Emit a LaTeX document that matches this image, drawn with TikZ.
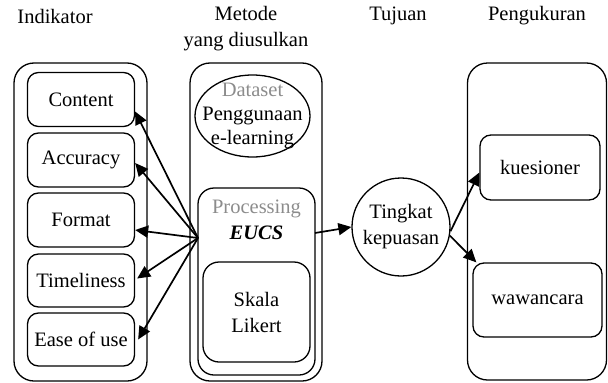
\documentclass[tikz,border=0pt]{standalone}
\usepackage{fontspec}
\setmainfont{Liberation Serif}
\usetikzlibrary{arrows.meta,shapes.geometric,calc}
\definecolor{graytxt}{HTML}{8C8C8C}
\begin{document}
\begin{tikzpicture}[x=1pt,y=-1pt,
  every node/.style={font=\fontsize{20.5}{26}\selectfont, inner sep=0pt, align=center},
  bigbox/.style={draw, line width=1.3pt, rounded corners=20pt},
  ibox/.style={draw, line width=1.3pt, rounded corners=11pt},
  arr/.style={line width=1.7pt, -{Triangle[length=13pt,width=12pt]}},
  title/.style={}]
\useasboundingbox (0,0) rectangle (608,383);
% titles
\node[title] (t1) at (55,16) {Indikator};
\node[title] (t2) at (246,29) {Metode\\yang diusulkan};
\node[title] (t3) at (398,16) {Tujuan};
\node[title] (t4) at (537,16) {Pengukuran};
% left column
\node[bigbox, minimum width=133pt, minimum height=318pt] (left) at (80.5,222) {};
\node[ibox, minimum width=107pt, minimum height=54pt] (content) at (81,99.5) {Content};
\node[ibox, minimum width=107pt, minimum height=54pt] (accuracy) at (81,160) {Accuracy};
\node[ibox, minimum width=107pt, minimum height=54pt] (format) at (81,220) {Format};
\node[ibox, minimum width=107pt, minimum height=53pt] (timeliness) at (81,280.5) {Timeliness};
\node[ibox, minimum width=107pt, minimum height=53pt] (ease) at (81,339.5) {Ease of use};
% middle column
\node[bigbox, minimum width=132pt, minimum height=318pt] (mid) at (256,222) {};
\node[draw, ellipse, line width=1.3pt, minimum width=115pt, minimum height=82pt] (data) at (252.5,116) {};
\node[font=\fontsize{20.5}{24}\selectfont] (datat) at (252.5,116) {\textcolor{graytxt}{Dataset}\\Penggunaan\\e-learning};
\node[draw, line width=1.3pt, rounded corners=16pt, minimum width=117pt, minimum height=187pt] (proc) at (256.5,281.5) {};
\node (proct) at (256.5,220) {\textcolor{graytxt}{Processing}\\\textbf{\textit{EUCS}}};
\node[ibox, rounded corners=16pt, minimum width=107pt, minimum height=100pt] (skala) at (256.5,312) {Skala\\Likert};
% goal
\node[draw, circle, line width=1.3pt, minimum size=98pt] (tk) at (401,227) {Tingkat\\kepuasan};
% right column
\node[bigbox, minimum width=139pt, minimum height=317pt] (right) at (537,221.5) {};
\node[ibox, minimum width=120pt, minimum height=65pt] (kues) at (540,167.5) {kuesioner};
\node[ibox, minimum width=129pt, minimum height=74pt] (waw) at (537.5,300) {wawancara};
% connectors
\coordinate (src) at (198,238);
\coordinate (procR) at (315,233);
\draw[arr] (src) -- ([yshift=-12pt]content.east);
\draw[arr] (src) -- ([yshift=-3pt]accuracy.east);
\draw[arr] (src) -- ([yshift=-10pt]format.east);
\draw[arr] (src) -- ([yshift=2pt,xshift=2pt]timeliness.east);
\draw[arr] (src) -- ([xshift=3pt]ease.east);
\draw[arr] (procR) -- (tk.west);
\draw[arr] (tk.-5) -- ([yshift=-5pt]kues.west);
\draw[arr] (tk.-10) -- ([xshift=4pt]waw.north west);
\end{tikzpicture}
\end{document}
